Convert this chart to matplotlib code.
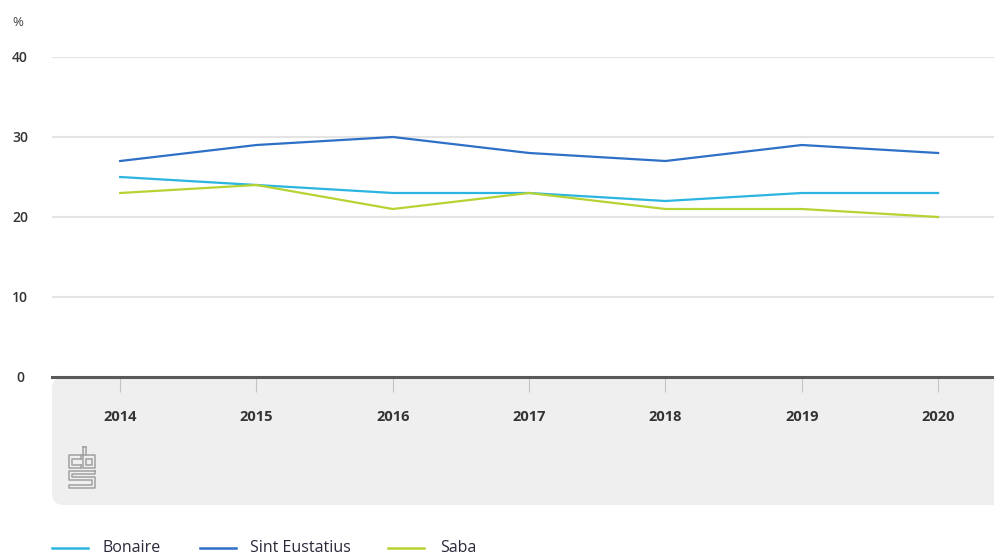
import matplotlib
matplotlib.use("Agg")
import matplotlib.pyplot as plt
from matplotlib.patches import FancyBboxPatch, Rectangle
from matplotlib.lines import Line2D

years = ["2014", "2015", "2016", "2017", "2018", "2019", "2020"]
bonaire = [25, 24, 23, 23, 22, 23, 23]
sint_eustatius = [27, 29, 30, 28, 27, 29, 28]
saba = [23, 24, 21, 23, 21, 21, 20]
series_names = ["Bonaire", "Sint Eustatius", "Saba"]
colors = ["#2bb5e0", "#2e6fc7", "#b6d334"]
yticks = [0, 10, 20, 30, 40]

plt.rcParams['font.family'] = ['Open Sans', 'DejaVu Sans']

W, H = 994, 557
fig = plt.figure(figsize=(W / 100, H / 100), dpi=100)

def fx(px):
    return px / W

def fy(py):
    return 1 - py / H

# gray band below axis
band = FancyBboxPatch((fx(52), fy(505)), fx(994) - fx(52) + 0.02, fy(377) - fy(505),
                      boxstyle="round,pad=0,rounding_size=0.012",
                      transform=fig.transFigure, facecolor="#efefef", edgecolor="none",
                      zorder=-5, mutation_aspect=W / H)
fig.patches.append(band)

ax = fig.add_axes([fx(52), fy(377), 1 - fx(52), fy(57) - fy(377)])
ax.set_zorder(2)
ax.set_facecolor("none")
x = list(range(len(years)))
for vals, c in zip([bonaire, sint_eustatius, saba], colors):
    ax.plot(x, vals, color=c, lw=1.6, solid_joinstyle="miter", zorder=3)

ax.set_ylim(0, 40)
ax.set_xlim(-0.5, 6.41)
ax.set_yticks(yticks)
ax.set_yticklabels([str(v) for v in yticks])
for v in yticks[1:]:
    ax.axhline(v, color="#e4e4e4", lw=1.6, zorder=1)
ax.axhline(0, color="#5a5a5a", lw=2.2, zorder=4, clip_on=False)
for s in ax.spines.values():
    s.set_visible(False)
ax.tick_params(axis="y", length=0, pad=23, labelsize=10, labelcolor="#333333")
ax.set_xticks(x)
ax.set_xticklabels(years)
ax.tick_params(axis="x", length=11, width=0.8, color="#c4c4c4", pad=13,
               labelsize=10.5, labelcolor="#333333")
for lab in ax.get_xticklabels():
    lab.set_fontweight("bold")
for lab in ax.get_yticklabels():
    lab.set_horizontalalignment("center")
    lab.set_fontweight("semibold")

fig.text(fx(18), fy(22), "%", ha="center", va="center", fontsize=9.5, color="#444444")

# CBS logo (simplified)
lc = "#a0a0a0"
def rect(x0, y0, x1, y1):
    fig.patches.append(Rectangle((fx(x0), fy(y1)), fx(x1) - fx(x0), fy(y0) - fy(y1),
                                 transform=fig.transFigure, fill=False, edgecolor=lc, lw=1.1))
def line(xs, ys):
    fig.lines.append(Line2D([fx(v) for v in xs], [fy(v) for v in ys],
                            transform=fig.transFigure, color=lc, lw=1.1))
# c
line([81, 69, 69, 81], [455, 455, 468, 468])
line([81, 72, 72, 81], [458.5, 458.5, 464.5, 464.5])
line([81, 81], [455, 458.5]); line([81, 81], [464.5, 468])
# b
line([83, 83, 95, 95, 83], [447, 468, 468, 455, 455])
line([86, 86], [447, 455])
line([83, 86], [447, 447])
rect(86, 458.5, 92, 464.5)
# s
line([95, 69, 69, 92, 92, 69, 69, 95, 95, 72, 72, 95, 95],
     [471, 471, 480, 480, 485, 485, 488, 488, 477, 477, 474, 474, 471])

# legend
lx = [(52, 88, 103), (200, 236, 250), (388, 424, 440)]
for (a, b, t), name, c in zip(lx, series_names, colors):
    fig.lines.append(Line2D([fx(a), fx(b)], [fy(548), fy(548)], transform=fig.transFigure,
                            color=c, lw=1.8))
    fig.text(fx(t), fy(548), name, ha="left", va="center", fontsize=11.5, color="#2a2a3a")

fig.savefig("out.png", dpi=100)
